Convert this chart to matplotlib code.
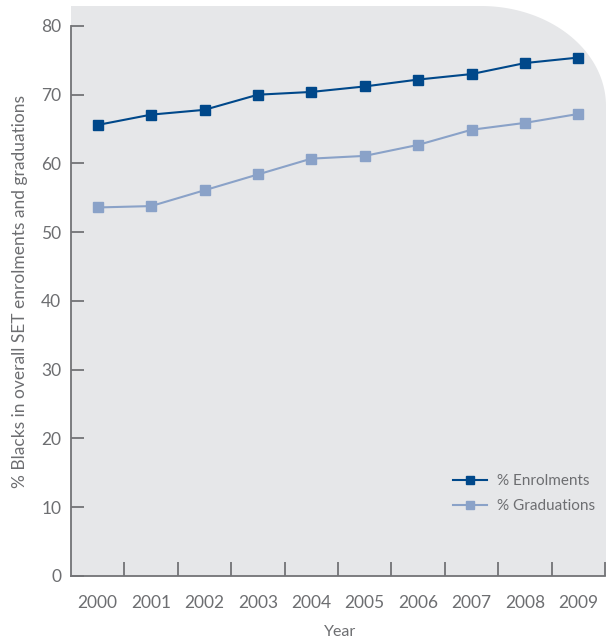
import numpy as np
import matplotlib
matplotlib.use("Agg")
import matplotlib.pyplot as plt
from matplotlib.patches import Polygon

years = ["2000", "2001", "2002", "2003", "2004", "2005", "2006", "2007", "2008", "2009"]
enrolments = [65.6, 67.1, 67.8, 70.0, 70.4, 71.2, 72.2, 73.0, 74.6, 75.4]
graduations = [53.6, 53.8, 56.1, 58.4, 60.7, 61.1, 62.7, 64.9, 65.9, 67.2]

plt.rcParams["font.family"] = ["Lato", "DejaVu Sans"]
plt.rcParams["font.weight"] = "normal"

TEXT = "#6d6e71"
AXIS = "#727376"
C_ENR = "#00488a"
C_GRAD = "#8aa2c8"

W, H = 606, 641
fig = plt.figure(figsize=(W / 100, H / 100), dpi=100)
fig.patch.set_facecolor("white")

# grey panel behind the plot, rounded at the top-right corner
left, right, top, bottom = 71, 606, 6, 576
rx, ry = 125, 100
theta = np.linspace(np.pi / 2, 0, 80)
arc = [(right - rx + rx * np.cos(t), top + ry - ry * np.sin(t)) for t in theta]
pts = [(left, bottom), (left, top)] + arc + [(right, bottom)]
pts = [(x / W, 1 - y / H) for x, y in pts]
panel = Polygon(pts, closed=True, transform=fig.transFigure,
                facecolor="#e6e7e9", edgecolor="none", zorder=-10)
fig.patches.append(panel)

ax = fig.add_axes([left / W, 1 - bottom / H, (605 - left) / W, (bottom - top) / H])
ax.set_facecolor("none")
ax.set_zorder(1)

x = np.arange(len(years))
ax.plot(x, enrolments, color=C_ENR, lw=1.5, marker="s", ms=7.5,
        mfc=C_ENR, mec=C_ENR, label="% Enrolments", zorder=3)
ax.plot(x, graduations, color=C_GRAD, lw=1.5, marker="s", ms=7.5,
        mfc=C_GRAD, mec=C_GRAD, label="% Graduations", zorder=3)

ax.set_xlim(-0.5, len(years) - 0.5)
ax.set_ylim(0, 82.9)

for s in ("top", "right"):
    ax.spines[s].set_visible(False)
for s in ("left", "bottom"):
    ax.spines[s].set_color(AXIS)
    ax.spines[s].set_linewidth(1.3)
ax.spines["left"].set_bounds(0, 80)

ax.set_yticks(np.arange(0, 81, 10))
ax.tick_params(axis="y", direction="in", length=9, width=1.3, color=AXIS,
               labelsize=12.5, labelcolor=TEXT, pad=7)
ax.set_xticks(x)
ax.set_xticklabels(years)
ax.set_xticks(np.arange(0.5, len(years), 1), minor=True)
ax.tick_params(axis="x", which="major", length=0, labelsize=12.5,
               labelcolor=TEXT, pad=14)
ax.tick_params(axis="x", which="minor", direction="in", length=10,
               width=1.3, color=AXIS)

fig.text(340 / W, 1 - 632 / H, "Year", ha="center", va="center",
         fontsize=11.5, color=TEXT)
fig.text(20 / W, 1 - 292 / H, "% Blacks in overall SET enrolments and graduations",
         ha="center", va="center", rotation=90, fontsize=12.5, color=TEXT)

ax.legend(loc="upper left", bbox_to_anchor=(453 / W, 1 - 474 / H),
          bbox_transform=fig.transFigure, frameon=False, fontsize=11,
          handlelength=2.2, handletextpad=0.65, labelspacing=0.75,
          borderpad=0, borderaxespad=0, labelcolor=TEXT, markerscale=0.85)

fig.savefig("out.png", dpi=100)
